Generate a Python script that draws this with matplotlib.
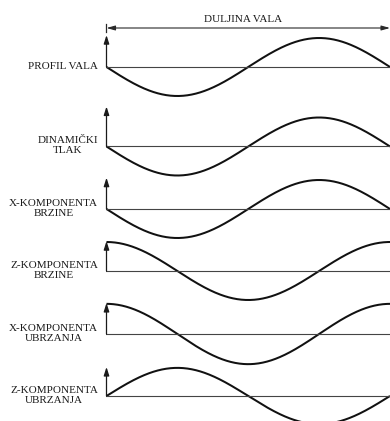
import numpy as np
import matplotlib
matplotlib.use("Agg")
import matplotlib.pyplot as plt

# ---- data ----
labels = ["PROFIL VALA", "DINAMIČKI\nTLAK", "X-KOMPONENTA\nBRZINE",
          "Z-KOMPONENTA\nBRZINE", "X-KOMPONENTA\nUBRZANJA", "Z-KOMPONENTA\nUBRZANJA"]
phase_deg = [180, 180, 180, 90, 90, 0]          # curve = amp * sin(2*pi*x + phase)
amplitude = [1.0, 1.0, 1.0, 1.0, 1.04, 0.97]
title = "DULJINA VALA"
wave_x = np.linspace(0.0, 1.0, 400)              # one wavelength

# ---- layout (pixels of a 390x421 canvas) ----
W, H = 390, 421
A = 29.0                                          # pixels per unit amplitude
x_left, x_right = 106.5, 390.0
baselines = [67, 146.5, 209, 271, 334, 396]
arrow_h = [1.10, 1.38, 1.08, 1.03, 1.07, 1.0]

plt.rcParams['font.family'] = ['Liberation Serif', 'DejaVu Serif']
fig = plt.figure(figsize=(W / 100, H / 100), dpi=100)
fig.patch.set_facecolor('white')

axes = []
for i, lab in enumerate(labels):
    b = baselines[i]
    ax = fig.add_axes([x_left / W, 1 - (b + A) / H,
                       (x_right - x_left) / W, 2 * A / H])
    ax.set_xlim(0, 1)
    ax.set_ylim(-1, 1)
    ax.axis('off')
    y = amplitude[i] * np.sin(2 * np.pi * wave_x + np.deg2rad(phase_deg[i]))
    ax.plot(wave_x, y, color='#111111', lw=1.45, clip_on=False,
            solid_capstyle='butt')
    ax.axhline(0, color='#444444', lw=0.8, xmin=0, xmax=1)
    ax.annotate('', xy=(0, arrow_h[i]), xytext=(0, 0),
                arrowprops=dict(arrowstyle='-|>,head_length=0.5,head_width=0.16',
                                color='#1a1a1a', lw=0.9,
                                shrinkA=0, shrinkB=0), annotation_clip=False)
    ax.text(-0.03, 0.03, lab, ha='right', va='center', multialignment='center',
            fontsize=8, color='#1a1a1a', transform=ax.transData,
            linespacing=1.12)
    axes.append(ax)

# wavelength dimension line on top
ax0 = axes[0]
ydim = (baselines[0] - 28) / A
ax0.annotate('', xy=(0.0, ydim), xytext=(1.0, ydim),
             arrowprops=dict(arrowstyle='<|-|>,head_length=0.5,head_width=0.14',
                             color='#2a2a2a', lw=0.8, shrinkA=0, shrinkB=0),
             annotation_clip=False)
ax0.plot([0, 0], [ydim - 0.15, ydim + 0.15], color='#2a2a2a', lw=0.9, clip_on=False)
ax0.text(0.48, (baselines[0] - 20) / A, title, ha='center', va='center',
         fontsize=8, color='#1a1a1a')

fig.savefig('out.png', dpi=100, facecolor='white')
